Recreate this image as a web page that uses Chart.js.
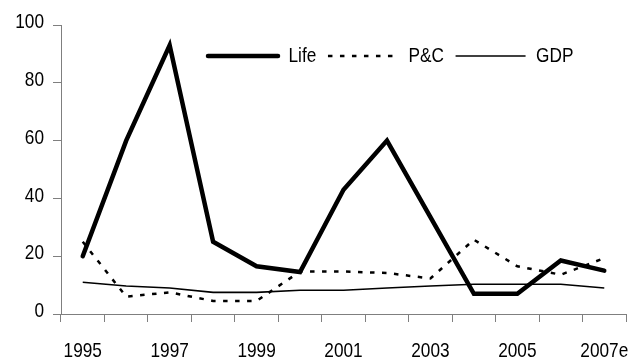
<!DOCTYPE html>
<html>
<head>
<meta charset="utf-8">
<script src="https://cdn.jsdelivr.net/npm/chart.js@4"></script>
<style>
  html, body { margin: 0; padding: 0; background: #fff; }
  #wrap { width: 629px; height: 360px; position: relative; }
</style>
</head>
<body>
<div id="wrap"><canvas id="c"></canvas></div>
<script>
const categories = ['1995','1996','1997','1998','1999','2000','2001','2002','2003','2004','2005','2006','2007e'];
const lifeValues = [20, 60, 93, 25, 16.5, 14.5, 43, 60, 33.5, 7, 7, 18.5, 15];
const pcValues   = [25, 6, 7.5, 4.5, 4.5, 14.7, 14.7, 14.2, 12.3, 25.7, 16.5, 13.6, 19.3];
const gdpValues  = [11, 9.7, 9, 7.5, 7.5, 8.2, 8.2, 9, 9.7, 10.3, 10.3, 10.3, 9];
const yTicks = [0, 20, 40, 60, 80, 100];

const FONT = "'Liberation Sans', Arial, sans-serif";
const AXIS_GRAY = '#7f7f7f';

// Narrow (Arial Narrow-like) rendering: condense text horizontally on this canvas only
const canvas = document.getElementById('c');
const ctx2d = canvas.getContext('2d');
const SX = 0.82;
const origFill = ctx2d.fillText.bind(ctx2d);
const origMeasure = ctx2d.measureText.bind(ctx2d);
ctx2d.fillText = function(text, x, y, maxWidth) {
  this.save();
  this.translate(x, y);
  this.scale(SX, 1);
  if (maxWidth !== undefined && maxWidth !== null) origFill(text, 0, 0, maxWidth / SX);
  else origFill(text, 0, 0);
  this.restore();
};
ctx2d.measureText = function(text) {
  const m = origMeasure(text);
  return {
    width: m.width * SX,
    actualBoundingBoxAscent: m.actualBoundingBoxAscent,
    actualBoundingBoxDescent: m.actualBoundingBoxDescent,
    actualBoundingBoxLeft: m.actualBoundingBoxLeft * SX,
    actualBoundingBoxRight: m.actualBoundingBoxRight * SX,
    fontBoundingBoxAscent: m.fontBoundingBoxAscent,
    fontBoundingBoxDescent: m.fontBoundingBoxDescent
  };
};

// Legend drawn inside the plot area (takes no layout space)
const legendInside = {
  id: 'legendInside',
  beforeLayout(chart) {
    const L = chart.legend;
    if (L && !L._zeroFit) {
      const origFit = L.fit;
      L.fit = function() { origFit.call(this); this.height = 0; };
      L._zeroFit = true;
    }
  },
  afterLayout(chart) {
    const L = chart.legend;
    if (!L) return;
    const dx = 135.3, dy = 8.8;
    L.left = chart.chartArea.left + dx;
    L.right = chart.width;
    L.top = chart.chartArea.top + dy;
    L.bottom = chart.height;
    L.width = L.right - L.left;
    L.height = L.bottom - L.top;
  }
};

new Chart(canvas, {
  type: 'line',
  data: {
    labels: categories,
    datasets: [
      { label: 'Life', data: lifeValues, borderColor: '#000', backgroundColor: '#000',
        borderWidth: 4.5, pointRadius: 0, tension: 0, borderCapStyle: 'round' },
      { label: 'P&C', data: pcValues, borderColor: '#000', backgroundColor: '#000',
        borderWidth: 2.5, borderDash: [4.5, 7.5], pointRadius: 0, tension: 0 },
      { label: 'GDP', data: gdpValues, borderColor: '#000', backgroundColor: '#000',
        borderWidth: 1.6, pointRadius: 0, tension: 0 }
    ]
  },
  options: {
    responsive: true,
    maintainAspectRatio: false,
    animation: false,
    layout: { padding: { top: 25, right: 3, left: 0, bottom: 0 } },
    plugins: {
      tooltip: { enabled: false },
      legend: {
        position: 'top',
        align: 'start',
        labels: {
          usePointStyle: true,
          pointStyle: 'line',
          pointStyleWidth: 70,
          padding: 11.7,
          color: '#000',
          font: { family: FONT, size: 21 },
          generateLabels(chart) {
            const items = Chart.defaults.plugins.legend.labels.generateLabels(chart);
            items.forEach(it => {
              const ds = chart.data.datasets[it.datasetIndex];
              it.lineDash = ds.borderDash || [];
              it.lineWidth = ds.borderWidth;
              it.lineCap = ds.borderCapStyle || 'butt';
              it.strokeStyle = ds.borderColor;
              it.fillStyle = ds.borderColor;
              it.pointStyle = 'line';
            });
            return items;
          }
        }
      }
    },
    scales: {
      x: {
        type: 'category',
        offset: true,
        afterFit(scale) { scale.height = 46; scale.paddingLeft = 0; scale.paddingRight = 0; },
        grid: { offset: true, drawOnChartArea: false, drawTicks: true, tickLength: 8, color: AXIS_GRAY },
        border: { display: true, color: AXIS_GRAY, width: 1 },
        ticks: {
          autoSkip: false, maxRotation: 0, minRotation: 0, padding: 17,
          color: '#000', font: { family: FONT, size: 21 },
          callback(value, index) { return index % 2 === 0 ? categories[index] : ''; }
        }
      },
      y: {
        min: 0, max: 100,
        afterFit(scale) { scale.width = 61; scale.paddingTop = 0; scale.paddingBottom = 0; },
        afterBuildTicks(scale) { scale.ticks = yTicks.map(v => ({ value: v })); },
        grid: { drawOnChartArea: false, drawTicks: true, tickLength: 8, color: AXIS_GRAY },
        border: { display: true, color: AXIS_GRAY, width: 1 },
        ticks: { padding: 9, labelOffset: -2.5, color: '#000', font: { family: FONT, size: 21 } }
      }
    }
  },
  plugins: [legendInside]
});
</script>
</body>
</html>
